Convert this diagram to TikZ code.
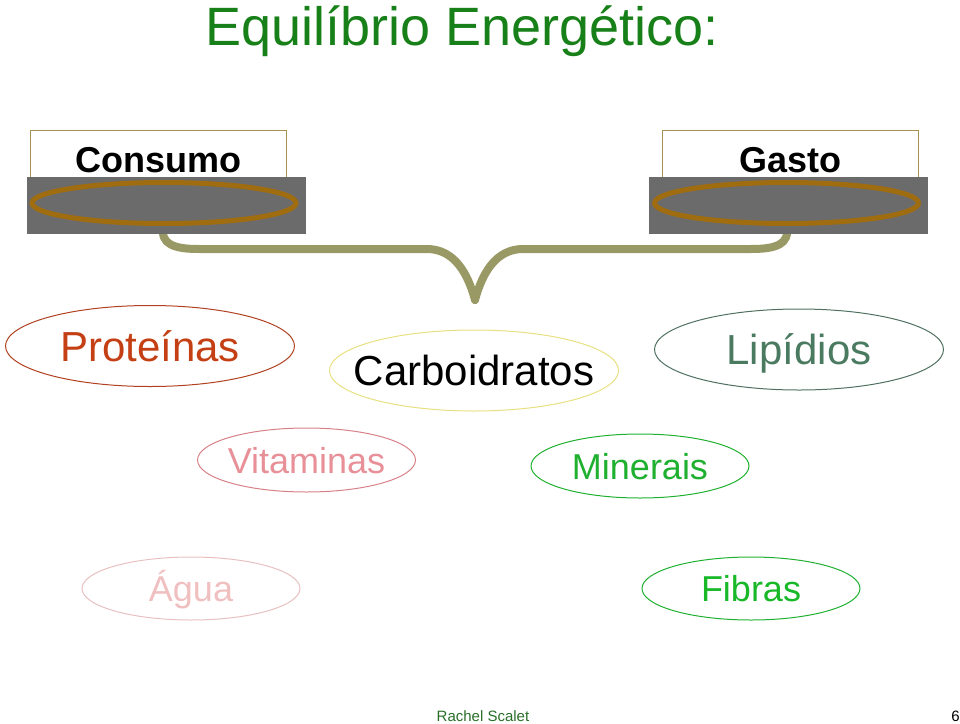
\documentclass[tikz,border=0pt]{standalone}
\usepackage{fontspec}
\setmainfont{Liberation Sans}
\usetikzlibrary{shapes.geometric}

\definecolor{titlegreen}{RGB}{24,128,24}
\definecolor{boxgold}{RGB}{168,144,80}
\definecolor{basegrey}{RGB}{107,107,107}
\definecolor{ringgold}{RGB}{160,108,16}
\definecolor{braceolive}{RGB}{153,153,102}
\definecolor{protline}{RGB}{176,64,32}
\definecolor{prottext}{RGB}{196,64,20}
\definecolor{carbline}{RGB}{232,224,128}
\definecolor{lipline}{RGB}{80,112,96}
\definecolor{liptext}{RGB}{74,122,96}
\definecolor{vitline}{RGB}{216,128,136}
\definecolor{vittext}{RGB}{232,144,152}
\definecolor{minline}{RGB}{32,176,48}
\definecolor{agualine}{RGB}{232,192,192}
\definecolor{aguatext}{RGB}{240,192,192}
\definecolor{fibtext}{RGB}{24,184,40}
\definecolor{footgreen}{RGB}{40,110,40}

\tikzset{
  labelbox/.style={draw=boxgold, fill=white, line width=1pt, inner sep=0pt,
    minimum width=256pt, minimum height=58pt, text height=26pt, text depth=0pt,
    font=\fontsize{36}{40}\selectfont\bfseries},
  platebase/.style={fill=basegrey, inner sep=0pt, minimum width=279pt, minimum height=57pt},
  platering/.style={ellipse, draw=ringgold, line width=5pt, inner sep=0pt,
    minimum width=264pt, minimum height=41pt},
  bigfood/.style={inner sep=0pt, text height=30pt, text depth=0pt,
    font=\fontsize{42}{46}\selectfont},
  smallfood/.style={inner sep=0pt, text height=26pt, text depth=0pt,
    font=\fontsize{36}{40}\selectfont},
  bigring/.style={line width=1pt, x radius=144.5, y radius=40.5},
  smallring/.style={line width=1pt, x radius=109, y radius=32},
  brace/.style={draw=braceolive, line width=8pt, line cap=round}
}

\begin{document}
\begin{tikzpicture}[x=1pt, y=-1pt]
\useasboundingbox (0,0) rectangle (960,723);

% Title
\node[anchor=base, text=titlegreen, font=\fontsize{54}{60}\selectfont] (title) at (462,45) {Equilíbrio Energético:};

% Scale plates
\node[labelbox] (consumo) at (158.5,159) {Consumo};
\node[labelbox] (gasto) at (790,159) {Gasto};

% Brace joining the plates
\coordinate (tip) at (475,300);
\draw[brace] (163,215) -- (163,232) to[out=-90,in=180] (200,249) -- (427,249) to[out=0,in=105] (tip);
\draw[brace] (787,215) -- (787,232) to[out=-90,in=0] (750,249) -- (523,249) to[out=180,in=75] (tip);

\node[platebase] (consumoBase) at (166.5,205.5) {};
\node[platebase] (gastoBase) at (788.5,205.5) {};
\node[platering] (consumoRing) at (164,203) {};
\node[platering] (gastoRing) at (786.5,203) {};

% Nutrients
\node[bigfood, text=prottext] (proteinas) at (150,346) {Proteínas};
\node[bigfood, text=black] (carboidratos) at (474,370.5) {Carboidratos};
\node[bigfood, text=liptext] (lipidios) at (799,349.5) {Lipídios};
\node[smallfood, text=vittext] (vitaminas) at (306.5,460) {Vitaminas};
\node[smallfood, text=minline] (minerais) at (640,466) {Minerais};
\node[smallfood, text=aguatext] (agua) at (191,588.5) {Água};
\node[smallfood, text=fibtext] (fibras) at (751,588.5) {Fibras};

\draw[bigring, draw=protline] (proteinas.center) ellipse [];
\draw[bigring, draw=carbline] (carboidratos.center) ellipse [];
\draw[bigring, draw=lipline] (lipidios.center) ellipse [];
\draw[smallring, draw=vitline] (vitaminas.center) ellipse [];
\draw[smallring, draw=minline] (minerais.center) ellipse [];
\draw[smallring, draw=agualine, y radius=31.5] (agua.center) ellipse [];
\draw[smallring, draw=minline, y radius=31.5] (fibras.center) ellipse [];

% Footer
\node[anchor=base, text=footgreen, font=\fontsize{15}{17}\selectfont] (autor) at (483,721) {Rachel Scalet};
\node[anchor=base east, font=\fontsize{15}{17}\selectfont, inner sep=0pt] (pagina) at (960,721) {6};
\end{tikzpicture}
\end{document}
